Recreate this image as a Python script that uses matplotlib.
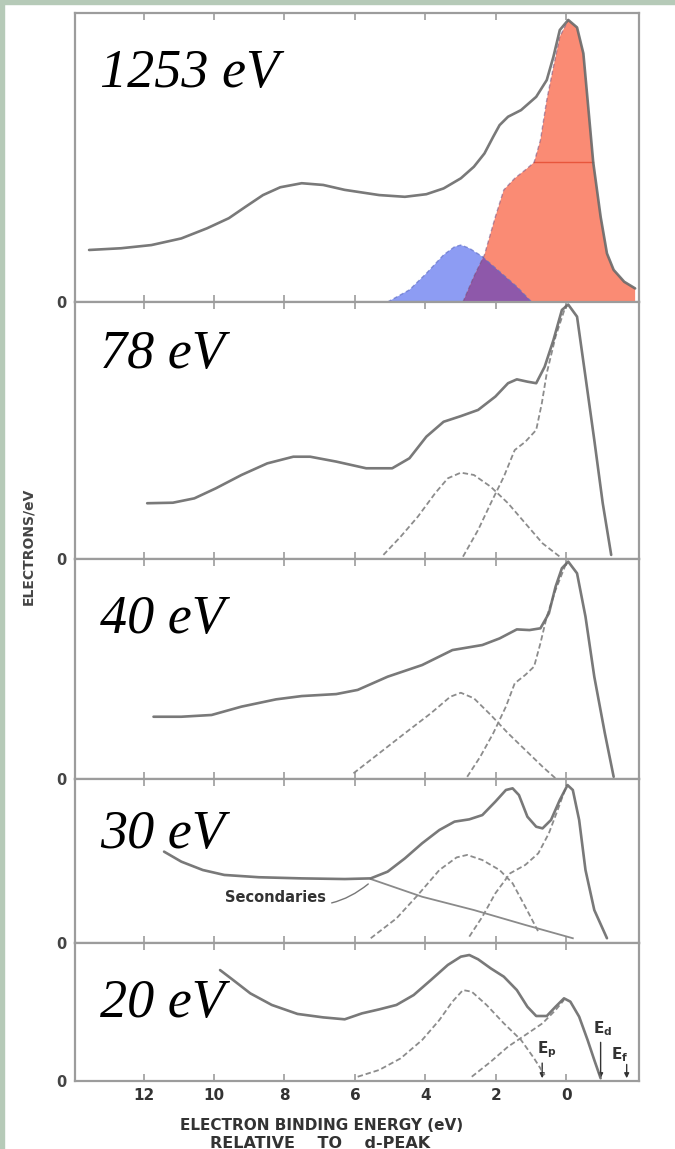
import matplotlib.pyplot as plt
from matplotlib.patches import Polygon, Rectangle
import numpy as np

# binding energy (eV, relative to the d-peak) and intensity (electrons/eV, per panel scale)
labels = ["1253 eV", "78 eV", "40 eV", "30 eV", "20 eV"]

# --- 1253 eV ---
e_tot_1253 = [13.55, 12.64, 11.78, 10.93, 10.20, 9.58, 9.10, 8.61, 8.12, 7.51, 6.90, 6.29,
              5.31, 4.58, 3.97, 3.48, 2.99, 2.62, 2.32, 2.07, 1.89, 1.65, 1.28, 0.85, 0.55,
              0.36, 0.18, -0.06, -0.31, -0.49, -0.61, -0.77, -0.98, -1.16, -1.35, -1.65, -1.96]
i_tot_1253 = [0.180, 0.186, 0.197, 0.220, 0.255, 0.290, 0.330, 0.370, 0.397, 0.411, 0.405, 0.388,
              0.370, 0.364, 0.373, 0.393, 0.428, 0.468, 0.514, 0.572, 0.612, 0.641, 0.664, 0.710, 0.768,
              0.849, 0.941, 0.976, 0.950, 0.860, 0.699, 0.483, 0.295, 0.168, 0.111, 0.070, 0.047]
e_p_1253 = [5.07, 4.45, 3.97, 3.48, 3.17, 2.99, 2.75, 2.38, 1.89, 1.40, 0.98]
i_p_1253 = [0.0, 0.042, 0.099, 0.163, 0.191, 0.197, 0.186, 0.157, 0.105, 0.053, 0.0]
e_d_1253 = [2.93, 2.62, 2.32, 2.01, 1.77, 1.46, 1.16, 0.91, 0.73, 0.55, 0.36, 0.18, -0.06]
i_d_1253 = [0.0, 0.088, 0.163, 0.295, 0.388, 0.428, 0.457, 0.483, 0.560, 0.699, 0.814, 0.918, 0.976]
fwhm_1253 = (0.91, -0.77, 0.483)  # left edge, right edge, half maximum

# --- 78 eV ---
e_tot_78 = [11.90, 11.17, 10.56, 9.95, 9.22, 8.49, 7.75, 7.27, 6.53, 5.68, 4.94, 4.45, 3.97, 3.48,
            2.99, 2.50, 2.01, 1.65, 1.40, 1.10, 0.85, 0.61, 0.36, 0.12, -0.06, -0.31, -0.55,
            -0.80, -1.04, -1.28]
i_tot_78 = [0.217, 0.219, 0.236, 0.275, 0.327, 0.372, 0.398, 0.398, 0.379, 0.353, 0.353, 0.392,
            0.476, 0.534, 0.556, 0.580, 0.632, 0.684, 0.699, 0.690, 0.684, 0.748, 0.852, 0.969,
            0.990, 0.943, 0.709, 0.463, 0.217, 0.016]
e_p_78 = [5.19, 4.70, 4.21, 3.72, 3.36, 2.99, 2.62, 2.14, 1.65, 1.16, 0.67, 0.18]
i_p_78 = [0.016, 0.087, 0.165, 0.256, 0.314, 0.336, 0.327, 0.281, 0.217, 0.139, 0.061, 0.009]
e_d_78 = [2.93, 2.50, 2.14, 1.77, 1.46, 1.16, 0.85, 0.69, 0.55, 0.30, 0.0]
i_d_78 = [0.009, 0.113, 0.217, 0.320, 0.424, 0.456, 0.502, 0.606, 0.723, 0.865, 0.990]

# --- 40 eV ---
e_tot_40 = [11.72, 10.93, 10.07, 9.22, 8.24, 7.51, 6.53, 5.92, 5.07, 4.09, 3.23, 2.38, 1.89,
            1.40, 1.04, 0.73, 0.49, 0.30, 0.12, -0.06, -0.31, -0.55, -0.80, -1.10, -1.35]
i_tot_40 = [0.283, 0.283, 0.291, 0.329, 0.362, 0.377, 0.386, 0.405, 0.465, 0.518, 0.586, 0.609,
            0.639, 0.680, 0.677, 0.685, 0.753, 0.874, 0.958, 0.988, 0.935, 0.738, 0.465, 0.208, 0.010]
e_p_40 = [6.04, 5.31, 4.58, 3.84, 3.29, 2.99, 2.62, 2.14, 1.65, 1.16, 0.67, 0.30]
i_p_40 = [0.026, 0.117, 0.208, 0.299, 0.374, 0.392, 0.367, 0.291, 0.208, 0.132, 0.056, 0.003]
e_d_40 = [2.81, 2.44, 2.07, 1.71, 1.46, 1.16, 0.91, 0.73, 0.55, 0.30, 0.0]
i_d_40 = [0.010, 0.101, 0.208, 0.329, 0.435, 0.473, 0.511, 0.617, 0.738, 0.859, 0.980]

# --- 30 eV ---
e_tot_30 = [11.42, 10.93, 10.32, 9.71, 8.73, 7.51, 6.29, 5.55, 5.07, 4.58, 4.09, 3.60, 3.17,
            2.75, 2.38, 2.01, 1.71, 1.52, 1.34, 1.10, 0.85, 0.67, 0.43, 0.18, -0.04, -0.19,
            -0.37, -0.55, -0.80, -1.16]
i_tot_30 = [0.557, 0.496, 0.445, 0.415, 0.401, 0.394, 0.390, 0.394, 0.435, 0.516, 0.608, 0.689,
            0.740, 0.754, 0.780, 0.862, 0.933, 0.943, 0.902, 0.770, 0.709, 0.699, 0.750, 0.872,
            0.963, 0.933, 0.750, 0.445, 0.201, 0.029]
e_sec_30 = [5.55, 4.09, 2.62, 1.16, -0.19]
i_sec_30 = [0.390, 0.282, 0.201, 0.110, 0.029]
e_p_30 = [5.55, 4.82, 4.21, 3.60, 3.11, 2.81, 2.38, 1.89, 1.52, 1.16, 0.79]
i_p_30 = [0.029, 0.150, 0.293, 0.445, 0.522, 0.537, 0.506, 0.445, 0.364, 0.221, 0.069]
e_d_30 = [2.75, 2.38, 2.01, 1.59, 1.16, 0.79, 0.49, 0.24, 0.0]
i_d_30 = [0.039, 0.160, 0.303, 0.425, 0.476, 0.547, 0.669, 0.811, 0.953]

# --- 20 eV ---
e_tot_20 = [9.83, 9.46, 8.97, 8.36, 7.63, 6.90, 6.29, 5.80, 5.31, 4.82, 4.33, 3.84, 3.36, 2.99,
            2.75, 2.50, 2.14, 1.77, 1.40, 1.10, 0.85, 0.55, 0.30, 0.06, -0.12, -0.37, -0.61,
            -0.80, -0.98]
i_tot_20 = [0.804, 0.732, 0.635, 0.551, 0.486, 0.461, 0.447, 0.490, 0.519, 0.551, 0.623, 0.732,
            0.841, 0.901, 0.913, 0.882, 0.816, 0.756, 0.659, 0.538, 0.471, 0.471, 0.538, 0.599,
            0.575, 0.466, 0.297, 0.152, 0.020]
e_p_20 = [5.92, 5.31, 4.70, 4.09, 3.60, 3.23, 2.93, 2.68, 2.26, 1.77, 1.28, 0.91, 0.61]
i_p_20 = [0.031, 0.080, 0.164, 0.297, 0.442, 0.575, 0.659, 0.647, 0.551, 0.418, 0.297, 0.164, 0.043]
e_d_20 = [2.68, 2.14, 1.65, 1.16, 0.67, 0.30, 0.06]
i_d_20 = [0.031, 0.140, 0.249, 0.333, 0.418, 0.514, 0.587]

# characteristic energies marked on the 20 eV panel
e_p_mark, e_d_mark, e_f_mark = 0.68, -0.98, -1.72

totals = [(e_tot_1253, i_tot_1253), (e_tot_78, i_tot_78), (e_tot_40, i_tot_40),
          (e_tot_30, i_tot_30), (e_tot_20, i_tot_20)]
p_parts = [(e_p_1253, i_p_1253), (e_p_78, i_p_78), (e_p_40, i_p_40),
           (e_p_30, i_p_30), (e_p_20, i_p_20)]
d_parts = [(e_d_1253, i_d_1253), (e_d_78, i_d_78), (e_d_40, i_d_40),
           (e_d_30, i_d_30), (e_d_20, i_d_20)]

W, H = 675, 1149
fig = plt.figure(figsize=(W / 100, H / 100), dpi=100)
fig.patch.set_facecolor("white")
# thin tinted border left and top
fig.patches.append(Rectangle((0, 0), 4 / W, 1, transform=fig.transFigure, color="#b6cab8", zorder=0))
fig.patches.append(Rectangle((0, 1 - 4 / H), 1, 4 / H, transform=fig.transFigure, color="#b6cab8", zorder=0))

edges = [13, 302, 559, 779, 943, 1081]   # panel borders in pixels from the top
x0, x1 = 75, 639
label_y = [0.744, 0.743, 0.664, 0.579, 0.464]

line_c = "#6a6a6a"
dash_c = "#8c8c8c"
frame_c = "#9c9c9c"
ink = "#333333"
sans = "DejaVu Sans"

axes = []
for k in range(5):
    top, bot = edges[k], edges[k + 1]
    ax = fig.add_axes([x0 / W, 1 - bot / H, (x1 - x0) / W, (bot - top) / H])
    axes.append(ax)
    ax.set_xlim(13.95, -2.07)
    ax.set_ylim(0, 1)
    for s in ax.spines.values():
        s.set_color(frame_c)
        s.set_linewidth(1.6)
    ax.set_xticks([12, 10, 8, 6, 4, 2, 0])
    ax.tick_params(axis="x", direction="in", top=True, length=5, width=1.2, color=frame_c,
                   labelbottom=(k == 4), labelsize=11, pad=5, labelcolor=ink)
    ax.set_yticks([0])
    ax.set_yticklabels(["0"], fontsize=10.5, fontweight="bold", color="#444444", family=sans)
    ax.tick_params(axis="y", length=0, pad=6)
    for t in ax.get_xticklabels():
        t.set_fontweight("bold")
        t.set_family(sans)

    e_tot, i_tot = totals[k]
    e_p, i_p = p_parts[k]
    e_d, i_d = d_parts[k]

    if k == 0:
        # coloured decomposition: p band (blue), d band (red), overlap (purple)
        blue = Polygon(np.column_stack([e_p, i_p]), closed=True, facecolor="#8d9cf3",
                       edgecolor="none", zorder=2)
        ax.add_patch(blue)
        ipk = int(np.argmax(i_tot))
        red_e = list(e_d) + list(e_tot[ipk + 1:]) + [e_tot[-1]]
        red_i = list(i_d) + list(i_tot[ipk + 1:]) + [0.0]
        red = Polygon(np.column_stack([red_e, red_i]), closed=True, facecolor="#fa8b74",
                      edgecolor="none", zorder=3)
        ax.add_patch(red)
        purple = Polygon(np.column_stack([e_p, i_p]), closed=True, facecolor="#8e58aa",
                         edgecolor="none", zorder=4)
        ax.add_patch(purple)
        purple.set_clip_path(red)
        ax.plot([fwhm_1253[0], fwhm_1253[1]], [fwhm_1253[2]] * 2, color="#e8563c", lw=1.0, zorder=5)
        ax.plot(e_p, i_p, color="#6170c8", lw=1.0, ls=(0, (3, 2)), alpha=0.7, zorder=5)
        ax.plot(e_d, i_d, color="#6a4a80", lw=1.0, ls=(0, (3, 2)), alpha=0.5, zorder=5)
    else:
        ax.plot(e_p, i_p, color=dash_c, lw=1.3, ls=(0, (3, 1.6)), zorder=4)
        ax.plot(e_d, i_d, color=dash_c, lw=1.3, ls=(0, (3, 1.6)), zorder=4)

    ax.plot(e_tot, i_tot, color=line_c, lw=1.9, alpha=0.9, zorder=6, solid_capstyle="round",
            solid_joinstyle="round")

    ax.text(0.045, label_y[k], labels[k], transform=ax.transAxes, family="Liberation Serif",
            style="italic", fontsize=39, va="baseline", ha="left", zorder=8)

# secondaries background in the 30 eV panel
ax30 = axes[3]
ax30.plot(e_sec_30, i_sec_30, color="#8a8a8a", lw=1.3, zorder=5)
ax30.annotate("Secondaries", xy=(5.62, 0.36), xytext=(8.25, 0.28), fontsize=10.5,
              fontweight="bold", family=sans, color=ink, ha="center", va="center",
              arrowprops=dict(arrowstyle="-", color="#777777", lw=1.0,
                              connectionstyle="arc3,rad=0.3", shrinkA=2, shrinkB=0))

# Ep, Ed, Ef markers in the 20 eV panel
ax20 = axes[4]
marks = [(e_p_mark, 0.15, "E$_\\mathregular{p}$", 0.55, 0.23),
         (e_d_mark, 0.30, "E$_\\mathregular{d}$", -1.05, 0.38),
         (e_f_mark, 0.14, "E$_\\mathregular{f}$", -1.52, 0.19)]
for e_m, top_m, txt, tx, ty in marks:
    ax20.annotate("", xy=(e_m, 0.0), xytext=(e_m, top_m),
                  arrowprops=dict(arrowstyle="-|>", color=ink, lw=1.0, mutation_scale=7))
    ax20.text(tx, ty, txt, fontsize=11, fontweight="bold", family=sans,
              color=ink, ha="center", va="center", zorder=8)

fig.text(28 / W, 1 - 546 / H, "ELECTRONS/eV", rotation=90, fontsize=10, fontweight="bold",
         family=sans, color="#444444", ha="center", va="center")
fig.text(322 / W, 1 - 1125 / H, "ELECTRON BINDING ENERGY (eV)", fontsize=11, fontweight="bold",
         family=sans, color=ink, ha="center", va="center")
fig.text(320 / W, 1 - 1143 / H, "RELATIVE    TO    d-PEAK", fontsize=11.5, fontweight="bold",
         family=sans, color=ink, ha="center", va="center")

fig.savefig("out.png", dpi=100)
